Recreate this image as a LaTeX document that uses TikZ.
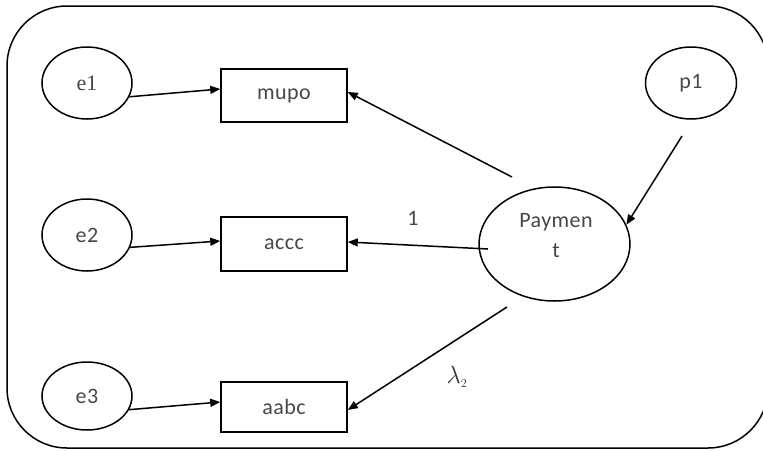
\documentclass[tikz,border=0pt]{standalone}
\usepackage{fontspec}
\setmainfont{Carlito}[LetterSpace=2]
\newfontfamily\serifface{Liberation Serif}
\usetikzlibrary{shapes.geometric,arrows.meta}
\begin{document}
\begin{tikzpicture}[x=1pt,y=-1pt,
  line width=1.5pt,
  every node/.style={font=\fontsize{22}{30}\selectfont, text=black!72},
  entity/.style={draw=black, ellipse, minimum width=90pt, minimum height=72pt, inner sep=0pt},
  attr/.style={draw=black, rectangle, minimum width=126pt, inner sep=0pt},
  link/.style={-{Triangle[length=10pt,width=8pt]}}]
  \useasboundingbox (0,0) rectangle (763,450);
  % outer frame
  \draw[rounded corners=60pt] (7,6) rectangle (768,448);

  % source ellipses
  \node[entity] (e1) at (87,83) {\serifface e1};
  \node[entity] (e2) at (87,235) {e2};
  \node[entity, minimum height=68pt] (e3) at (87,396) {e3};
  \node[entity, minimum width=91pt] (p1) at (691,83) {p1};

  % central entity
  \node[entity, minimum width=151pt, minimum height=114pt] (pay) at (554.5,244) {};
  \node[align=center] (paytext) at (556,236) {Paymen\\t};

  % attribute boxes
  \node[attr, minimum height=53pt] (mupo) at (284,95.5) {mupo};
  \node[attr, minimum height=54pt] (accc) at (284,244) {accc};
  \node[attr, minimum height=50pt] (aabc) at (284,407) {aabc};

  % connector start points near the ellipses
  \coordinate (pm) at (512,177);
  \coordinate (pa) at (488,249);
  \coordinate (pb) at (507,307);
  \coordinate (pp) at (682,136);

  \draw[link] (e1.-18) -- ([yshift=6.5pt]mupo.west);
  \draw[link] (e2.-16) -- ([yshift=3pt]accc.west);
  \draw[link] (e3.-18) -- ([yshift=5pt]aabc.west);

  \draw[link] (pm) -- ([yshift=3.5pt]mupo.east);
  \draw[link] (pa) -- ([yshift=2pt]accc.east);
  \draw[link] (pb) -- ([yshift=-3pt]aabc.east);
  \draw[link] (pp) -- (pay.15);

  % edge labels
  \node (one) at (413,218) {1};
  \node[font=\fontsize{24}{26}\selectfont, text=black!80] (lam) at (457,377) {$\lambda_{\scriptscriptstyle 2}$};
\end{tikzpicture}
\end{document}
